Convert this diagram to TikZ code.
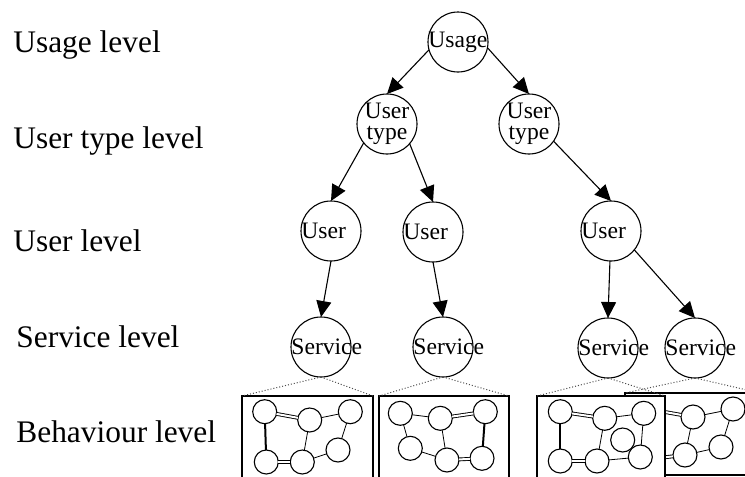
\documentclass[tikz,border=0pt]{standalone}
\usepackage{fontspec}
\setmainfont{Liberation Serif}
\usetikzlibrary{arrows.meta}

\tikzset{
  lvl/.style={circle, draw, line width=0.55pt, minimum size=30pt, inner sep=0pt, outer sep=0pt},
  txt/.style={font=\fontsize{11.8}{10.6}\selectfont, inner sep=0pt, align=center},
  levellabel/.style={font=\fontsize{15.7}{18}\selectfont, anchor=base west, inner sep=0pt},
  tip/.style={-{Triangle[length=8pt,width=7.5pt]}, line width=0.55pt},
  frame/.style={rectangle, draw, fill=white, line width=1.2pt, anchor=north west, inner sep=0pt, outer sep=0pt},
  fan/.style={densely dotted, black!70, line width=0.5pt},
  dot/.style={circle, draw, line width=0.55pt, minimum size=12pt, inner sep=0pt, outer sep=0pt},
  dbl/.style={double, double distance=1pt, line width=0.45pt},
  thk/.style={line width=1pt}
}

\begin{document}
\begin{tikzpicture}[x=0.5pt, y=-0.5pt]
\useasboundingbox (0,0) rectangle (745,477);
\clip (0,0) rectangle (745,477);

% level names
\node[levellabel] (lusage)   at (13,52)  {Usage level};
\node[levellabel] (lusertype) at (13,148) {User type level};
\node[levellabel] (luser)    at (13,251) {User level};
\node[levellabel] (lservice) at (16,347) {Service level};
\node[levellabel] (lbehave)  at (16,442) {Behaviour level};

% tree
\node[lvl, label={[txt,anchor=west]west:Usage}] (usage) at (458,42) {};

\node[lvl, label={[txt]center:User\\type}] (ut1) at (387,124) {};
\node[lvl, label={[txt]center:User\\type}] (ut2) at (529,124) {};

\node[lvl, label={[txt,anchor=west]west:User}] (u1) at (331,231) {};
\node[lvl, label={[txt,anchor=west]west:User}] (u2) at (433,232) {};
\node[lvl, label={[txt,anchor=west]west:User}] (u3) at (611,231) {};

\node[lvl, label={[txt,anchor=west]west:Service}] (s1) at (321,347) {};
\node[lvl, label={[txt,anchor=west]west:Service}] (s2) at (443,347) {};
\node[lvl, label={[txt,anchor=west]west:Service}] (s3) at (608,348) {};
\node[lvl, label={[txt,anchor=west]west:Service}] (s4) at (695,348) {};

\draw[tip] (usage.195) -- (ut1.north);
\draw[tip] (usage.349) -- (ut2.north);
\draw[tip] (ut1.219) -- (u1.north);
\draw[tip] (ut1.319) -- (u2.north);
\draw[tip] (ut2.325) -- (u3.north);
\draw[tip] (u1.south) -- (s1.north);
\draw[tip] (u2.south) -- (s2.north);
\draw[tip] (u3.268) -- (s3.north);
\draw[tip] (u3.321) -- (s4.north);

% behaviour boxes
\node[frame, minimum width=67.5pt, minimum height=41pt] (b4) at (625,393) {};
\foreach \n/\x/\y in {f1/648/409, f2/693/417, f3/733/409, f4/649/459, f5/685/455, f6/721/447}
    \node[dot] (\n) at (\x,\y) {};
\foreach \a/\b in {f1/f2, f4/f5}
    \draw[dbl] (\a) -- (\b);
\draw[thk] (f1) -- (f4);
\foreach \a/\b in {f2/f3, f2/f5, f5/f6, f3/f6}
    \draw (\a) -- (\b);

\node[frame, minimum width=65.5pt, minimum height=52pt] (b1) at (242,396) {};
\foreach \n/\x/\y in {c1/264.7/411.7, c2/309.7/420, c3/350.3/411.7, c4/266.3/462, c5/302.3/462, c6/338/450}
    \node[dot] (\n) at (\x,\y) {};
\foreach \a/\b in {c1/c2, c4/c5}
    \draw[dbl] (\a) -- (\b);
\draw[thk] (c1) -- (c4);
\foreach \a/\b in {c2/c3, c2/c5, c5/c6, c3/c6}
    \draw (\a) -- (\b);

\node[frame, minimum width=65pt, minimum height=52pt] (b2) at (379,396) {};
\foreach \n/\x/\y in {d1/400.3/413.3, d2/440.3/418.3, d3/485.3/411.7, d4/410.3/448.3, d5/447/460, d6/482/458.3}
    \node[dot] (\n) at (\x,\y) {};
\foreach \a/\b in {d2/d3, d5/d6}
    \draw[dbl] (\a) -- (\b);
\draw[thk] (d3) -- (d6);
\foreach \a/\b in {d1/d2, d1/d4, d2/d5, d4/d5}
    \draw (\a) -- (\b);

\node[frame, minimum width=64pt, minimum height=52pt] (b3) at (537,396) {};
\foreach \n/\x/\y in {e1/560.3/411.7, e2/604.7/418.3, e3/643.7/413.3, e4/560.3/461, e5/597/461, e6/640.3/457, e7/622.7/440}
    \node[dot] (\n) at (\x,\y) {};
\foreach \a/\b in {e1/e2, e4/e5}
    \draw[dbl] (\a) -- (\b);
\draw[thk] (e1) -- (e4);
\foreach \a/\b in {e2/e3, e2/e5, e5/e6, e3/e6}
    \draw (\a) -- (\b);

% fans from services to boxes
\foreach \s/\b in {s1/b1, s2/b2, s3/b3, s4/b4} {
    \draw[fan] (\s.south) -- (\b.north west);
    \draw[fan] (\s.south) -- (\b.north east);
}
\end{tikzpicture}
\end{document}
